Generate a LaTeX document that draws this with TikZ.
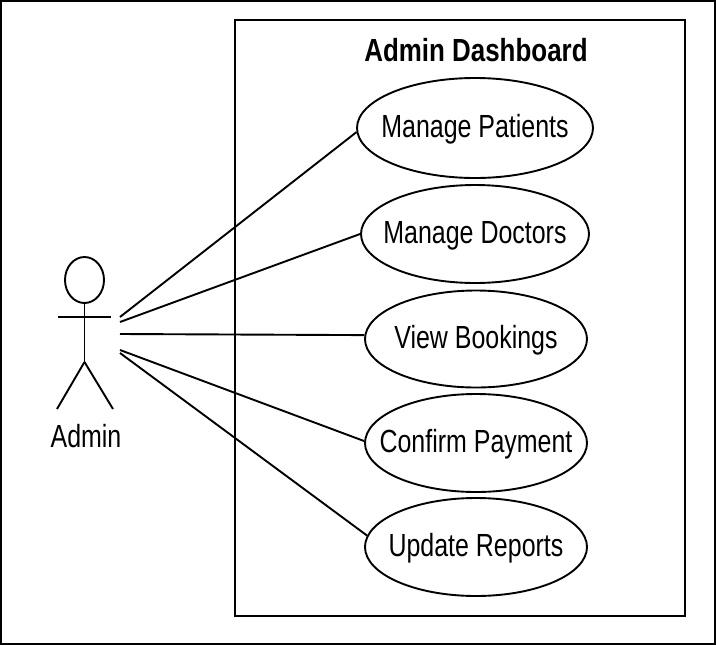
\documentclass[tikz,border=0pt]{standalone}
\usepackage{fontspec}
\setmainfont{Liberation Sans}
\newfontfamily\narrowfont[FakeStretch=0.78]{Liberation Sans}
\newfontfamily\titlefont[FakeStretch=0.81]{Liberation Sans Bold}
\usetikzlibrary{shapes.geometric}
\begin{document}
\begin{tikzpicture}[x=1pt,y=-1pt,
    usecase/.style ={ellipse, draw, line width=1.9pt, inner xsep = -40pt, inner ysep = 0pt, text height=26pt, text depth=7pt, font=\narrowfont\fontsize{32}{36}\selectfont},
    limb/.style ={line width=1.9pt}]
   \useasboundingbox (0,0) rectangle (716,646);
   \draw[line width=1.9pt] (1,1) rectangle (715,644);
   \node[draw, line width=1.9pt, minimum width=450pt, minimum height=596pt, inner sep=0pt] (S) at (460,318) {};
   \node[font=\titlefont\fontsize{32}{36}\selectfont, inner sep=0pt] (T) at (476,50) {Admin Dashboard};

   \node[usecase, minimum width=236pt, minimum height=100pt] (A) at (475,128) {Manage Patients};
   \node[usecase, minimum width=228pt, minimum height=98pt] (B) at (475,234) {Manage Doctors};
   \node[usecase, minimum width=222pt, minimum height=97pt] (C) at (476,339) {View Bookings};
   \node[usecase, minimum width=222pt, minimum height=98pt] (D) at (476,443) {Confirm Payment};
   \node[usecase, minimum width=222pt, minimum height=98pt] (E) at (476,547) {Update Reports};

   \node[ellipse, draw, line width=1.9pt, minimum width=39pt, minimum height=46pt, inner sep=0pt] (H) at (84.5,280) {};
   \coordinate (W) at (84.5,362);
   \coordinate (L) at (57,409);
   \coordinate (R) at (113,409);
   \coordinate (P) at (58,317);
   \coordinate (Q) at (111,317);
   \draw[limb] (H) to (W);
   \draw[limb] (P) to (Q);
   \draw[limb] (W) to (L);
   \draw[limb] (W) to (R);
   \node[font=\narrowfont\fontsize{32}{36}\selectfont, inner sep=0pt] (N1) at (86,436) {Admin};

   \coordinate (a1) at (120,317);
   \coordinate (a2) at (120,322);
   \coordinate (a3) at (120,334);
   \coordinate (a4) at (120,350);
   \coordinate (a5) at (120,353);
   \draw[limb] (a1) to (A.182);
   \draw[limb] (a2) to (B.west);
   \draw[limb] (a3) to (C.178);
   \draw[limb] (a4) to (D.179);
   \draw[limb] (a5) to (E.174);
\end{tikzpicture}
\end{document}
